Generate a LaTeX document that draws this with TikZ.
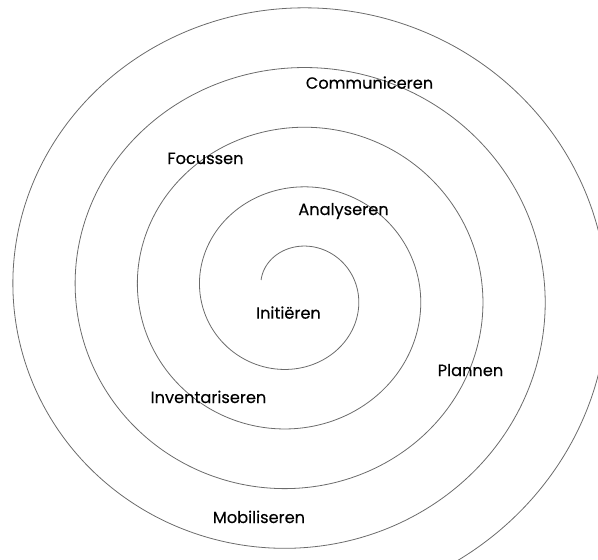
\documentclass[tikz,border=0pt]{standalone}
\usepackage{fontspec}
\setmainfont{Poppins}[FakeBold=0.3]
\begin{document}
\begin{tikzpicture}[x=1pt,y=-1pt,
  lbl/.style={font=\fontsize{16.2}{18}\selectfont, inner sep=0pt, anchor=base},
  spiral/.style={draw=black!58, line width=0.8pt}]
\useasboundingbox (0,0) rectangle (598,560);
\begin{scope}
  \clip (0,0) rectangle (598,560);
  \draw[spiral] plot[domain=-68:1600, samples=600, smooth, variable=\t]
    ({294.6+(47.9+0.1731*\t)*sin(\t)},{293-(46+0.166*\t)*cos(\t)});
\end{scope}
\node[lbl] (communiceren) at (369.5,88.7) {Communiceren};
\node[lbl] (focussen) at (205.5,164) {Focussen};
\node[lbl] (analyseren) at (343.5,215) {Analyseren};
\node[lbl] (initieren) at (288.5,318.7) {Initiëren};
\node[lbl] (plannen) at (470.5,376) {Plannen};
\node[lbl] (inventariseren) at (208.5,403) {Inventariseren};
\node[lbl] (mobiliseren) at (259,523) {Mobiliseren};
\end{tikzpicture}
\end{document}
